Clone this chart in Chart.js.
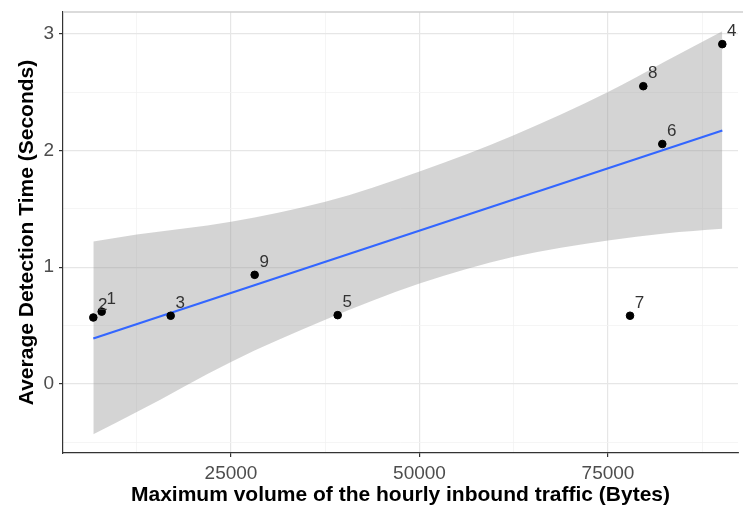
<!DOCTYPE html>
<html lang="en">
<head>
<meta charset="UTF-8">
<title>Detection time vs inbound traffic</title>
<script src="https://cdn.jsdelivr.net/npm/chart.js"></script>
<style>
  html, body { margin: 0; padding: 0; background: #fff; }
</style>
</head>
<body>
<canvas id="scatterChart" width="743" height="508"></canvas>
<script>
// observations (label, bytes, seconds)
const POINT_IDS = ['1', '2', '3', '4', '5', '6', '7', '8', '9'];
const TRAFFIC_BYTES = [7850, 6740, 17000, 90160, 39150, 82200, 77920, 79680, 28140];
const DETECTION_SEC = [0.62, 0.57, 0.585, 2.91, 0.59, 2.055, 0.585, 2.55, 0.935];

// fitted line, read at both ends
const FIT_X = [6740, 90160];
const FIT_Y = [0.39, 2.17];

// confidence band edges
const BAND_X = [6740, 12500, 25000, 37500, 50000, 62500, 75000, 82500, 90160];
const BAND_UPPER = [1.22, 1.28, 1.39, 1.56, 1.82, 2.13, 2.50, 2.76, 3.02];
const BAND_LOWER = [-0.43, -0.24, 0.19, 0.55, 0.86, 1.09, 1.23, 1.29, 1.33];

const X_TICKS = [12500, 25000, 37500, 50000, 62500, 75000, 87500];
const Y_TICKS = [-0.5, 0, 0.5, 1, 1.5, 2, 2.5, 3];

Chart.defaults.font.family = "'Liberation Sans', Arial, sans-serif";

const isMajorX = v => v % 25000 === 0;
const isMajorY = v => Number.isInteger(v);

function toPoints(xs, ys) {
    return xs.map((x, i) => ({ x: x, y: ys[i] }));
}

function noPadding(s) {
    s.paddingLeft = 0;
    s.paddingRight = 0;
    s.paddingTop = 0;
    s.paddingBottom = 0;
}

// light top panel border (the right side runs off the picture)
const panelBorder = {
    id: 'panelBorder',
    afterDatasetsDraw(chart) {
        const { ctx, chartArea: a } = chart;
        ctx.save();
        ctx.strokeStyle = '#cfcfcf';
        ctx.lineWidth = 1.5;
        ctx.beginPath();
        ctx.moveTo(a.left, a.top);
        ctx.lineTo(chart.width, a.top);
        ctx.stroke();
        ctx.restore();
    }
};

// number next to each point
const pointLabels = {
    id: 'pointLabels',
    afterDatasetsDraw(chart) {
        const { ctx, scales } = chart;
        ctx.save();
        ctx.font = "17px 'Liberation Sans', Arial, sans-serif";
        ctx.fillStyle = '#333';
        ctx.textAlign = 'center';
        ctx.textBaseline = 'middle';
        POINT_IDS.forEach((id, i) => {
            const px = scales.x.getPixelForValue(TRAFFIC_BYTES[i]);
            const py = scales.y.getPixelForValue(DETECTION_SEC[i]);
            ctx.fillText(id, px + 9.5, py - 12.5);
        });
        ctx.restore();
    }
};

new Chart(document.getElementById('scatterChart'), {
    type: 'scatter',
    data: {
        datasets: [
            {
                label: 'Observations',
                data: toPoints(TRAFFIC_BYTES, DETECTION_SEC),
                backgroundColor: '#000',
                borderColor: '#000',
                pointRadius: 3.8,
                order: 0
            },
            {
                label: 'Linear fit',
                data: toPoints(FIT_X, FIT_Y),
                showLine: true,
                borderColor: '#3366FF',
                borderWidth: 2.2,
                pointRadius: 0,
                order: 1
            },
            {
                label: 'Upper',
                data: toPoints(BAND_X, BAND_UPPER),
                showLine: true,
                borderColor: 'transparent',
                borderWidth: 0,
                pointRadius: 0,
                cubicInterpolationMode: 'monotone',
                fill: '+1',
                backgroundColor: 'rgba(153,153,153,0.42)',
                order: 2
            },
            {
                label: 'Lower',
                data: toPoints(BAND_X, BAND_LOWER),
                showLine: true,
                borderColor: 'transparent',
                borderWidth: 0,
                pointRadius: 0,
                cubicInterpolationMode: 'monotone',
                fill: false,
                order: 3
            }
        ]
    },
    options: {
        responsive: false,
        animation: false,
        devicePixelRatio: 1,
        layout: { padding: { top: 12, right: 0, left: 0, bottom: 0 } },
        plugins: {
            legend: { display: false },
            tooltip: { enabled: false }
        },
        scales: {
            x: {
                type: 'linear',
                min: 2720,
                max: 92240,
                afterBuildTicks: s => { s.ticks = X_TICKS.map(v => ({ value: v })); },
                afterFit: s => {
                    s.height = 55;
                    noPadding(s);
                },
                ticks: {
                    autoSkip: false,
                    maxRotation: 0,
                    padding: 5,
                    color: '#4d4d4d',
                    font: { size: 19 },
                    callback: v => isMajorX(v) ? String(v) : ''
                },
                grid: {
                    color: c => isMajorX(c.tick.value) ? '#e6e6e6' : '#f2f2f2',
                    lineWidth: c => isMajorX(c.tick.value) ? 1.2 : 0.8,
                    tickColor: c => isMajorX(c.tick.value) ? '#333' : 'rgba(0,0,0,0)',
                    tickLength: 4
                },
                border: { display: true, color: '#333', width: 1.2 },
                title: {
                    display: true,
                    text: 'Maximum volume of the hourly inbound traffic (Bytes)',
                    color: '#000',
                    font: { size: 21, weight: 'bold' },
                    padding: { top: 0, bottom: 0 }
                }
            },
            y: {
                type: 'linear',
                min: -0.59,
                max: 3.185,
                afterBuildTicks: s => { s.ticks = Y_TICKS.map(v => ({ value: v })); },
                afterFit: s => {
                    s.width = 63;
                    noPadding(s);
                },
                ticks: {
                    autoSkip: false,
                    padding: 5,
                    color: '#4d4d4d',
                    font: { size: 19 },
                    callback: v => isMajorY(v) ? String(v) : ''
                },
                grid: {
                    color: c => isMajorY(c.tick.value) ? '#e6e6e6' : '#f2f2f2',
                    lineWidth: c => isMajorY(c.tick.value) ? 1.2 : 0.8,
                    tickColor: c => isMajorY(c.tick.value) ? '#333' : 'rgba(0,0,0,0)',
                    tickLength: 4
                },
                border: { display: true, color: '#333', width: 1.2 },
                title: {
                    display: true,
                    text: 'Average Detection Time (Seconds)',
                    color: '#000',
                    font: { size: 21, weight: 'bold' },
                    padding: { top: 15, bottom: 0 }
                }
            }
        }
    },
    plugins: [panelBorder, pointLabels]
});
</script>
</body>
</html>
